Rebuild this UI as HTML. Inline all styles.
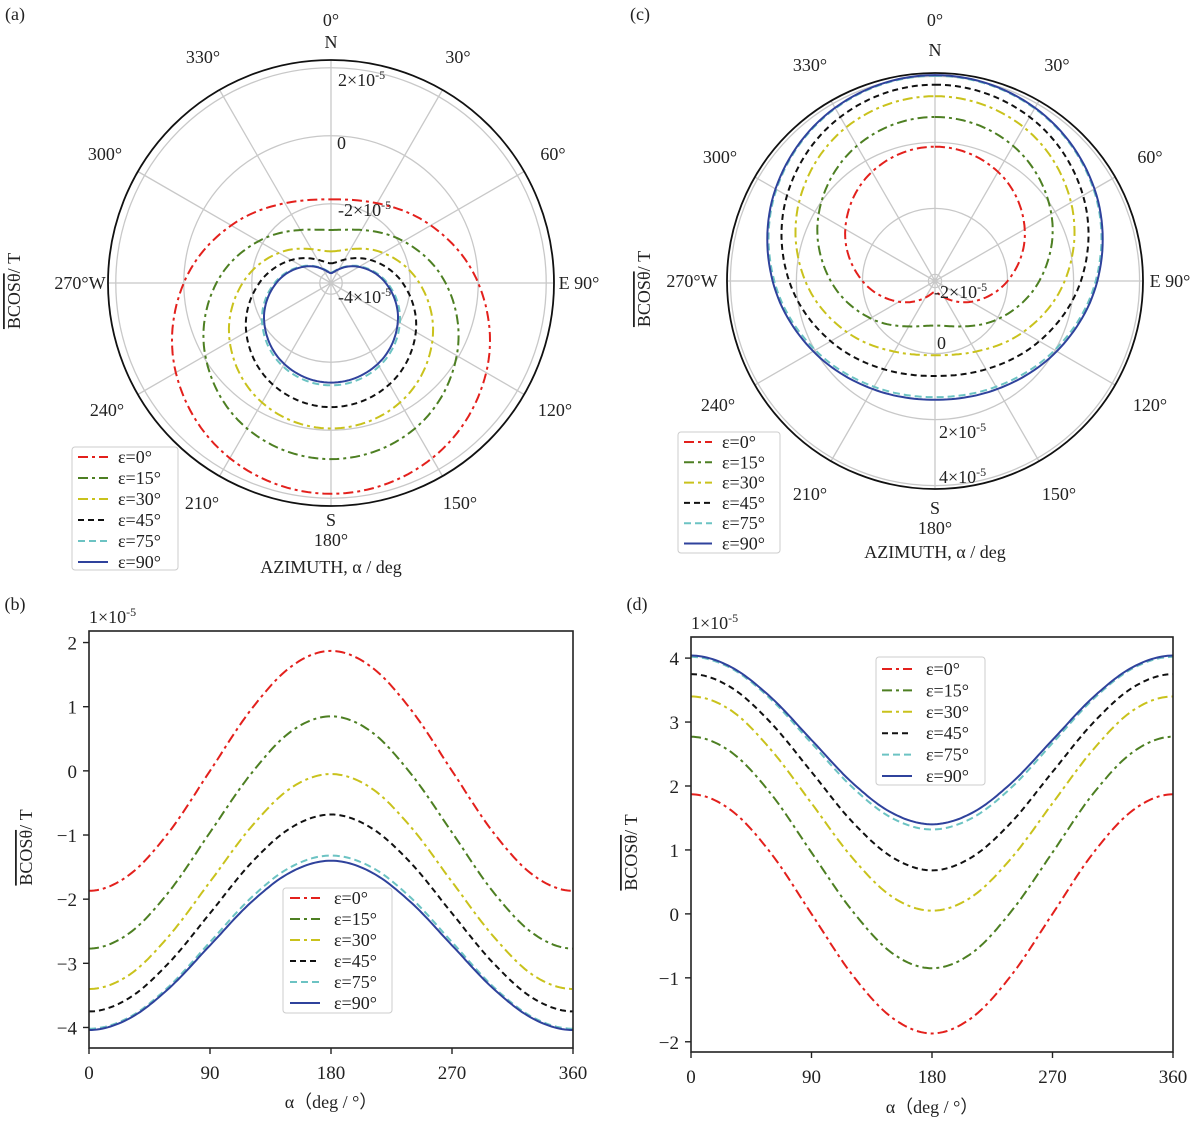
<!DOCTYPE html>
<html><head><meta charset="utf-8"><style>
html,body{margin:0;padding:0;background:#fff}
svg{display:block}
text{font-family:"Liberation Serif",serif;font-size:18px;fill:#222}
</style></head><body>
<svg id="fig" width="1200" height="1125" viewBox="0 0 1200 1125" xmlns="http://www.w3.org/2000/svg"></svg>
<script>
const alphas=[0,30,60,90,120,150,180,210,240,270,300,330,360];
const seriesNames=['ε=0°','ε=15°','ε=30°','ε=45°','ε=75°','ε=90°'];
// panel (b) values, ×1e-5 T
const b_e0 =[-1.87,-1.62,-0.94,0.00,0.94,1.62,1.87,1.62,0.94,0.00,-0.94,-1.62,-1.87];
const b_e15=[-2.77,-2.53,-1.87,-0.96,-0.06,0.61,0.85,0.61,-0.06,-0.96,-1.87,-2.53,-2.77];
const b_e30=[-3.40,-3.18,-2.56,-1.73,-0.89,-0.27,-0.05,-0.27,-0.89,-1.73,-2.56,-3.18,-3.40];
const b_e45=[-3.75,-3.54,-2.98,-2.22,-1.45,-0.89,-0.68,-0.89,-1.45,-2.22,-2.98,-3.54,-3.75];
const b_e75=[-4.02,-3.84,-3.35,-2.67,-1.99,-1.50,-1.32,-1.50,-1.99,-2.67,-3.35,-3.84,-4.02];
const b_e90=[-4.04,-3.86,-3.38,-2.72,-2.06,-1.58,-1.40,-1.58,-2.06,-2.72,-3.38,-3.86,-4.04];
// panel (d) values, ×1e-5 T
const d_e0 =[1.87,1.62,0.94,0.00,-0.94,-1.62,-1.87,-1.62,-0.94,0.00,0.94,1.62,1.87];
const d_e15=[2.77,2.53,1.87,0.96,0.06,-0.61,-0.85,-0.61,0.06,0.96,1.87,2.53,2.77];
const d_e30=[3.40,3.18,2.56,1.73,0.89,0.27,0.05,0.27,0.89,1.73,2.56,3.18,3.40];
const d_e45=[3.75,3.54,2.98,2.22,1.45,0.89,0.68,0.89,1.45,2.22,2.98,3.54,3.75];
const d_e75=[4.02,3.84,3.35,2.67,1.99,1.50,1.32,1.50,1.99,2.67,3.35,3.84,4.02];
const d_e90=[4.04,3.86,3.38,2.72,2.06,1.58,1.40,1.58,2.06,2.72,3.38,3.86,4.04];
const xTicks=[0,90,180,270,360];
const bYTicks=[-4,-3,-2,-1,0,1,2];
const dYTicks=[-2,-1,0,1,2,3,4];
const aRTicks=[-4,-2,0,2];
const cRTicks=[-2,0,2,4];

const bSeries=[b_e0,b_e15,b_e30,b_e45,b_e75,b_e90];
const dSeries=[d_e0,d_e15,d_e30,d_e45,d_e75,d_e90];
const colors=['#e3201c','#4d7f22','#c9c21c','#111111','#6cc3c3','#2f429c'];
const dashes=['10,4,3,4','10,4,3,4','10,4,3,4','6,4','7,4',''];
const NS='http://www.w3.org/2000/svg';
const svg=document.getElementById('fig');

function mk(tag,attrs,parent){const e=document.createElementNS(NS,tag);for(const k in attrs)e.setAttribute(k,attrs[k]);(parent||svg).appendChild(e);return e;}
function txt(x,y,s,anchor,parent,size){const t=mk('text',{x:x,y:y,'text-anchor':anchor||'middle'},parent);if(size)t.style.fontSize=size+'px';t.textContent=s;return t;}
function sci(x,y,m,exp,anchor,parent){const t=mk('text',{x:x,y:y,'text-anchor':anchor||'start'},parent);t.appendChild(document.createTextNode(m+'10'));const s=mk('tspan',{dy:-7},t);s.style.fontSize='12px';s.textContent=exp;return t;}
function interp(vals,a){const n=12;let u=(((a%360)+360)%360)/30;let i=Math.floor(u);const t=u-i;
  const p0=vals[(i-1+n)%n],p1=vals[i%n],p2=vals[(i+1)%n],p3=vals[(i+2)%n];
  return 0.5*((2*p1)+(-p0+p2)*t+(2*p0-5*p1+4*p2-p3)*t*t+(-p0+3*p1-3*p2+p3)*t*t*t);}
function ylabel(x,y,parent){const t=mk('text',{x:0,y:0,'text-anchor':'middle',transform:`translate(${x},${y}) rotate(-90)`},parent);
  const o=mk('tspan',{},t);o.setAttribute('text-decoration','overline');o.style.textDecoration='overline';o.textContent='BCOSθ';
  const r=mk('tspan',{},t);r.textContent='/ T';return t;}

function legend(parent,x0,y0,w,h,rowY,dy,lx,lw,tx){
  const g=mk('g',{},parent);
  
  
  mk('rect',{x:x0,y:y0,width:w,height:h,rx:3,fill:'#fff','fill-opacity':0.85,stroke:'#ccc','stroke-width':1},g);
  for(let i=0;i<6;i++){const y=rowY+dy*i;
    const e=mk('g',{},g);
    
    
    mk('line',{x1:lx,y1:y,x2:lx+lw,y2:y,stroke:colors[i],'stroke-width':2,'stroke-dasharray':dashes[i]},e);
    txt(tx,y+6,seriesNames[i],'start',e);}
}

function cartPanel(name,series,yTicks,L,R,T,B,ymin,ymax,leg,ylx,xlabY){
  const g=mk('g',{});
  
  
  const X=a=>L+(a-0)/360*(R-L);
  const Y=v=>B-(v-ymin)/(ymax-ymin)*(B-T);
  const clip='clip-'+name;
  const cp=mk('clipPath',{id:clip},g);mk('rect',{x:L,y:T,width:R-L,height:B-T},cp);
  const lines=mk('g',{'clip-path':`url(#${clip})`},g);
  series.forEach((vals,i)=>{let d='';for(let a=0;a<=360;a+=2){d+=(a?'L':'M')+X(a).toFixed(1)+','+Y(interp(vals,a)).toFixed(1);}
    const p=mk('path',{d:d,fill:'none',stroke:colors[i],'stroke-width':2,'stroke-dasharray':dashes[i]},lines);
    
    });
  mk('rect',{x:L,y:T,width:R-L,height:B-T,fill:'none',stroke:'#222','stroke-width':1.6},g);
  xTicks.forEach(a=>{mk('line',{x1:X(a),y1:B,x2:X(a),y2:B+6,stroke:'#222','stroke-width':1.4},g);txt(X(a),B+31,String(a),'middle',g,19);});
  yTicks.forEach(v=>{mk('line',{x1:L,y1:Y(v),x2:L-6,y2:Y(v),stroke:'#222','stroke-width':1.4},g);txt(L-12,Y(v)+7,v<0?'−'+(-v):String(v),'end',g,19);});
  sci(L,T-8,'1×','-5','start',g);
  ylabel(ylx,(T+B)/2+8,g);
  txt((L+R)/2,xlabY,'α（deg / °）','middle',g,18);
  legend(g,...leg);
}

function polarPanel(name,series,rTicks,cx,cy,R,rmin,scale,angLab,rLab,titleY,ylx,leg){
  const g=mk('g',{});
  
  
  const rr=v=>Math.max(0,(v-rmin)*scale);
  rTicks.forEach(v=>mk('circle',{cx:cx,cy:cy,r:rr(v),fill:'none',stroke:'#c8c8c8','stroke-width':1.3},g));
  for(let a=0;a<360;a+=30){const t=a*Math.PI/180;mk('line',{x1:cx,y1:cy,x2:cx+R*Math.sin(t),y2:cy-R*Math.cos(t),stroke:'#c8c8c8','stroke-width':1.3},g);}
  series.forEach((vals,i)=>{let d='';for(let a=0;a<=360;a+=2){const t=a*Math.PI/180,r=rr(interp(vals,a));
      d+=(a?'L':'M')+(cx+r*Math.sin(t)).toFixed(1)+','+(cy-r*Math.cos(t)).toFixed(1);}
    const p=mk('path',{d:d,fill:'none',stroke:colors[i],'stroke-width':2,'stroke-dasharray':dashes[i]},g);
    
    });
  mk('circle',{cx:cx,cy:cy,r:R,fill:'none',stroke:'#111','stroke-width':1.8},g);
  angLab.forEach(l=>txt(l[0],l[1],l[2],l[3]||'middle',g));
  rTicks.forEach((v,i)=>{const p=rLab[i];if(v===0)txt(p[0],p[1],'0','start',g);else sci(p[0],p[1],(v<0?'-':'')+Math.abs(v)+'×','-5','start',g);});
  txt(cx,titleY,'AZIMUTH, α / deg','middle',g);
  ylabel(ylx,cy+8,g);
  legend(g,...leg);
}

// panel labels
[['(a)',15,20],['(c)',640,20],['(b)',15,610],['(d)',637,610]].forEach(p=>{const t=txt(p[1],p[2],p[0],'middle');});

polarPanel('polar-a',bSeries,aRTicks,331,283,223,-4.33,34,
 [[331,26,'0°'],[331,48,'N'],[458,63,'30°'],[553,160,'60°'],[579,289,'E 90°'],[555,416,'120°'],[460,509,'150°'],[331,526,'S'],[331,546,'180°'],[202,509,'210°'],[107,416,'240°'],[80,289,'270°W'],[105,160,'300°'],[203,63,'330°']],
 [[338,303],[338,216],[337,149],[338,86]],573,20,[72,447,106,123,457,21,78,30,118]);

polarPanel('polar-c',dSeries,cRTicks,935,281,208,-2.2,33,
 [[935,26,'0°'],[935,56,'N'],[1057,71,'30°'],[1150,163,'60°'],[1170,287,'E 90°'],[1150,411,'120°'],[1059,500,'150°'],[935,514,'S'],[935,534,'180°'],[810,500,'210°'],[718,411,'240°'],[692,287,'270°W'],[720,163,'300°'],[810,71,'330°']],
 [[934,298],[937,349],[939,438],[939,483]],558,650,[678,432,102,121,442,20.3,684,28,722]);

cartPanel('chart-b',bSeries,bYTicks,89,573,631,1048,-4.32,2.18,[283,888,109,125,898,21,290,30,334],32,1108);
cartPanel('chart-d',dSeries,dYTicks,691,1173,637,1052,-2.16,4.33,[876,657,109,128,669,21.4,882,30,926],637,1113);
</script>
</body></html>
